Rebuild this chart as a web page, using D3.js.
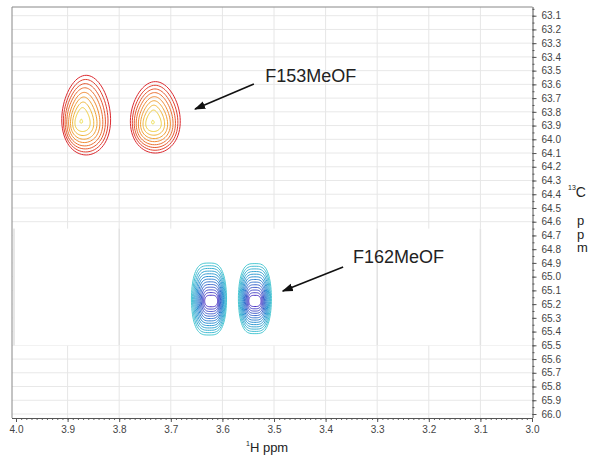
<!DOCTYPE html>
<html>
<head>
<meta charset="utf-8">
<script src="https://cdn.jsdelivr.net/npm/d3@7"></script>
<style>
  body { margin: 0; background: #fff; }
  text { font-family: "Liberation Sans", Arial, sans-serif; }
</style>
</head>
<body>
<div id="vis"></div>
<script>
// 1H axis ticks (ppm) and 13C axis ticks (ppm)
const hTicks = [4.0, 3.9, 3.8, 3.7, 3.6, 3.5, 3.4, 3.3, 3.2, 3.1, 3.0];
const cTicks = [63.1, 63.2, 63.3, 63.4, 63.5, 63.6, 63.7, 63.8, 63.9, 64.0,
                64.1, 64.2, 64.3, 64.4, 64.5, 64.6, 64.7, 64.8, 64.9, 65.0,
                65.1, 65.2, 65.3, 65.4, 65.5, 65.6, 65.7, 65.8, 65.9, 66.0];
// grid lines that show through the pasted blue panel
const panelGridH = [3.8, 3.4, 3.3, 3.1];
const panelRange = [64.65, 65.5];

// cross peaks: outer contour centre / half widths, and the peak top
const redPeaks = [
  { h: 3.864, c: 63.824, rh: 0.047, rc: 0.29, topH: 3.874, topC: 63.87 },
  { h: 3.730, c: 63.840, rh: 0.048, rc: 0.26, topH: 3.735, topC: 63.876 }
];
const redLevels = [1, 0.91, 0.82, 0.73, 0.63, 0.53, 0.42, 0.3, 0.05];
const bluePeaks = [
  { h: 3.626, c: 65.163, rh: 0.034, rc: 0.262, topH: 3.621, topC: 65.18 },
  { h: 3.537, c: 65.160, rh: 0.032, rc: 0.255, topH: 3.537, topC: 65.18 }
];
const blueLevels = [1, 0.93, 0.86, 0.79, 0.72, 0.65, 0.58, 0.51, 0.44, 0.37, 0.30, 0.23, 0.16];

const labels = [
  { text: "F153MeOF", h: 3.517, c: 63.583, fromH: 3.539, fromC: 63.597, toH: 3.653, toC: 63.78 },
  { text: "F162MeOF", h: 3.347, c: 64.901, fromH: 3.366, fromC: 64.930, toH: 3.483, toC: 65.105 }
];

const width = 600, height = 461;
const svg = d3.select("#vis").append("svg").attr("width", width).attr("height", height);

const x = d3.scaleLinear().domain([4.0, 3.0]).range([16, 532]);
const y = d3.scaleLinear().domain([63.1, 66.0]).range([15.7, 414]);
const fLeft = 12, fRight = 532.5, fTop = 7, fBottom = 418;

// grid
const grid = svg.append("g");
grid.selectAll("line.gh").data(cTicks).join("line")
  .attr("x1", fLeft).attr("x2", fRight)
  .attr("y1", d => y(d)).attr("y2", d => y(d))
  .attr("stroke", "#e8e8e8").attr("stroke-width", 1);
grid.selectAll("line.gv").data(hTicks.slice(1, -1)).join("line")
  .attr("x1", d => x(d)).attr("x2", d => x(d))
  .attr("y1", fTop).attr("y2", fBottom)
  .attr("stroke", "#e6e6e6").attr("stroke-width", 1);

// blue panel pasted over the middle
grid.append("rect")
  .attr("x", fLeft + 0.5).attr("y", y(panelRange[0]))
  .attr("width", fRight - fLeft - 1).attr("height", y(panelRange[1]) - y(panelRange[0]))
  .attr("fill", "#fff");
grid.selectAll("line.pv").data(panelGridH).join("line")
  .attr("x1", d => x(d)).attr("x2", d => x(d))
  .attr("y1", y(panelRange[0])).attr("y2", y(panelRange[1]))
  .attr("stroke", "#e2e2e2").attr("stroke-width", 1.5);
grid.append("line")
  .attr("x1", fLeft + 2).attr("x2", fLeft + 2)
  .attr("y1", y(panelRange[0])).attr("y2", y(panelRange[1]))
  .attr("stroke", "#d0d0d0");

// frame
svg.append("path")
  .attr("d", `M${fLeft},${fBottom}V${fTop}H${fRight}`)
  .attr("fill", "none").attr("stroke", "#888").attr("stroke-width", 1);

// contours
const line = d3.line().x(d => x(d[0])).y(d => y(d[1])).curve(d3.curveCardinalClosed);
const N = 72;
function eggRing(p, f) {
  const ch = p.topH + (p.h - p.topH) * f, cc = p.topC + (p.c - p.topC) * f;
  const k = 0.12 + 0.3 * (1 - f);
  return d3.range(N).map(i => {
    const t = i / N * 2 * Math.PI, u = Math.cos(t), v = Math.sin(t);
    const w = 1 - k * v;
    return [ch + p.rh * f * u * w, cc - p.rc * f * v];
  });
}
function boxRing(p, f) {
  const ch = p.topH + (p.h - p.topH) * f, cc = p.topC + (p.c - p.topC) * f;
  const e = 0.6;
  const rx = p.rh * (0.25 + 0.75 * f);
  return d3.range(N).map(i => {
    const t = i / N * 2 * Math.PI, u = Math.cos(t), v = Math.sin(t);
    return [ch + rx * Math.sign(u) * Math.pow(Math.abs(u), e), cc - p.rc * f * v];
  });
}
const redColor = d3.scaleLinear().domain([0, 4, 8]).range(["#dc2a30", "#f08a34", "#efe03c"]);
const blueColor = d3.scaleLinear().domain([0, 5, 12]).range(["#4cc9d3", "#2a8fd2", "#4a30c4"]);

const peaks = svg.append("g").attr("fill", "none").attr("stroke-width", 1);
redPeaks.forEach(p => {
  peaks.selectAll(null).data(redLevels).join("path")
    .attr("d", f => line(eggRing(p, f)))
    .attr("stroke", (f, i) => redColor(i));
});
bluePeaks.forEach(p => {
  peaks.selectAll(null).data(blueLevels).join("path")
    .attr("d", f => line(boxRing(p, f)))
    .attr("stroke", (f, i) => blueColor(i));
});

// annotations
svg.append("defs").append("marker")
  .attr("id", "ah").attr("viewBox", "0 0 10 10").attr("refX", 9).attr("refY", 5)
  .attr("markerWidth", 7).attr("markerHeight", 7).attr("orient", "auto")
  .append("path").attr("d", "M0,1.5L10,5L0,8.5Z").attr("fill", "#111");
svg.selectAll("line.arrow").data(labels).join("line")
  .attr("x1", d => x(d.fromH)).attr("y1", d => y(d.fromC))
  .attr("x2", d => x(d.toH)).attr("y2", d => y(d.toC))
  .attr("stroke", "#111").attr("stroke-width", 1.6)
  .attr("marker-end", "url(#ah)");
svg.selectAll("text.lab").data(labels).join("text")
  .attr("x", d => x(d.h)).attr("y", d => y(d.c))
  .attr("font-size", 18).attr("fill", "#222")
  .text(d => d.text);

// axes
const minorC = d3.range(63.05, 66.03, 0.05);
svg.append("g").attr("transform", `translate(${fRight},0)`)
  .call(d3.axisRight(y).tickValues(minorC).tickSize(2).tickFormat(""))
  .call(g => g.select(".domain").remove())
  .selectAll("line").attr("stroke", "#555");
svg.append("g").attr("transform", `translate(${fRight},0)`)
  .call(d3.axisRight(y).tickValues(cTicks).tickSize(4).tickPadding(5).tickFormat(d3.format(".1f")))
  .call(g => g.select(".domain").attr("d", `M0.5,${fTop}V${fBottom}`).attr("stroke", "#555"))
  .call(g => g.selectAll("line").attr("stroke", "#555"))
  .call(g => g.selectAll("text").attr("font-size", 10).attr("fill", "#444")
    .attr("font-family", "'Liberation Sans', Arial, sans-serif"));

const minorH = d3.range(3.0, 4.005, 0.01);
svg.append("g").attr("transform", `translate(0,${fBottom})`)
  .call(d3.axisBottom(x).tickValues(minorH).tickSize(2).tickFormat(""))
  .call(g => g.select(".domain").remove())
  .selectAll("line").attr("stroke", "#666");
svg.append("g").attr("transform", `translate(0,${fBottom})`)
  .call(d3.axisBottom(x).tickValues(hTicks).tickSize(4).tickPadding(4).tickFormat(d3.format(".1f")))
  .call(g => g.select(".domain").attr("d", `M${fLeft},0.5H${fRight}`).attr("stroke", "#555"))
  .call(g => g.selectAll("line").attr("stroke", "#555"))
  .call(g => g.selectAll("text").attr("font-size", 10).attr("fill", "#444")
    .attr("font-family", "'Liberation Sans', Arial, sans-serif"));

// axis titles
const xt = svg.append("text").attr("x", 246).attr("y", 452).attr("font-size", 13).attr("fill", "#222");
xt.append("tspan").attr("font-size", 7).attr("dy", -6).text("1");
xt.append("tspan").attr("dy", 6).text("H ppm");

const yt = svg.append("text").attr("x", 568).attr("y", 197).attr("font-size", 14).attr("fill", "#222");
yt.append("tspan").attr("font-size", 7).attr("dy", -7).text("13");
yt.append("tspan").attr("dy", 7).text("C");
svg.selectAll("text.pm").data(["p", "p", "m"]).join("text")
  .attr("x", 577).attr("y", (d, i) => 225 + i * 13.5)
  .attr("font-size", 13).attr("fill", "#222").text(d => d);
</script>
</body>
</html>
